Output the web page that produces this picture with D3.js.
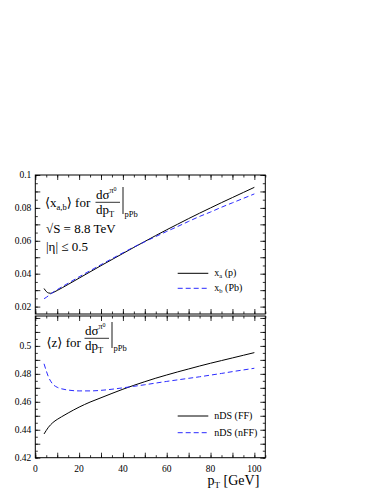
<!DOCTYPE html>
<html>
<head>
<meta charset="utf-8">
<script src="https://cdn.jsdelivr.net/npm/d3@7"></script>
<style>
  body { margin: 0; background: #fff; }
</style>
</head>
<body>
<div class="chart"></div>
<script>
// ------------------------------------------------------------------
// Data
var pt_xa  = [4, 5, 6, 7, 8, 10, 15, 20, 25, 30, 35, 40, 45, 50, 55, 60, 65, 70, 75, 80, 85, 90, 95, 100];
var val_xa = [0.0310, 0.0292, 0.0283, 0.0281, 0.0285, 0.0298, 0.0335, 0.0373, 0.0411, 0.0449, 0.0486, 0.0523,
              0.0560, 0.0596, 0.0632, 0.0667, 0.0701, 0.0735, 0.0768, 0.0800, 0.0832, 0.0863, 0.0894, 0.0925];
var pt_xb  = [4, 5, 6, 7, 8, 10, 15, 20, 25, 30, 35, 40, 45, 50, 55, 60, 65, 70, 75, 80, 85, 90, 95, 100];
var val_xb = [0.0248, 0.0256, 0.0266, 0.0276, 0.0286, 0.0303, 0.0342, 0.0381, 0.0418, 0.0455, 0.0491, 0.0527,
              0.0562, 0.0594, 0.0626, 0.0657, 0.0687, 0.0718, 0.0748, 0.0775, 0.0804, 0.0831, 0.0858, 0.0885];

var pt_ff   = [4, 5, 6, 7, 8, 10, 12, 15, 20, 25, 30, 35, 40, 45, 50, 55, 60, 65, 70, 75, 80, 85, 90, 95, 100];
var val_ff  = [0.4370, 0.4395, 0.4418, 0.4436, 0.4451, 0.4474, 0.4493, 0.4520, 0.4562, 0.4598, 0.4629, 0.4660,
               0.4690, 0.4718, 0.4744, 0.4769, 0.4792, 0.4814, 0.4835, 0.4856, 0.4876, 0.4895, 0.4914, 0.4933, 0.4952];
var pt_nff  = [4, 5, 6, 7, 8, 10, 12, 15, 20, 25, 30, 35, 40, 45, 50, 55, 60, 65, 70, 75, 80, 85, 90, 95, 100];
var val_nff = [0.4872, 0.4822, 0.4778, 0.4748, 0.4726, 0.4704, 0.4693, 0.4684, 0.4678, 0.4678, 0.4682, 0.4690,
               0.4700, 0.4711, 0.4722, 0.4734, 0.4746, 0.4757, 0.4768, 0.4779, 0.4791, 0.4803, 0.4816, 0.4828, 0.4840];

var x_ticks   = [0, 20, 40, 60, 80, 100];
var top_ticks = [0.02, 0.04, 0.06, 0.08, 0.1];
var bot_ticks = [0.42, 0.44, 0.46, 0.48, 0.5];
var top_labels = ["0.02", "0.04", "0.06", "0.08", "0.1"];
var bot_labels = ["0.42", "0.44", "0.46", "0.48", "0.5"];

// ------------------------------------------------------------------
var width = 382, height = 494;
var left = 35.3, right = 265.3;
var SERIF = "'Liberation Serif', 'Times New Roman', Times, 'DejaVu Serif', serif";

var svg = d3.select(".chart").append("svg")
  .attr("width", width)
  .attr("height", height)
  .attr("font-family", SERIF);

var x = d3.scaleLinear().domain([0, 105]).range([left, right]);

function zip(a, b) { return a.map(function(d, i) { return [d, b[i]]; }); }

function range_step(a, b, s) {
  var out = [];
  for (var v = a; v <= b + 1e-9; v += s) out.push(+v.toFixed(4));
  return out;
}

function txt(g, xx, yy, size) {
  return g.append("text").attr("x", xx).attr("y", yy)
    .attr("font-family", SERIF).attr("font-size", size).attr("fill", "#000");
}

// one panel : frame, ticks on the 4 sides, two curves
function panel(y, yTicks, yLabels, yMinor, curves, withXLabels)
{
  var g = svg.append("g");
  var top = y.range()[1], bottom = y.range()[0];

  // minor + major ticks, all pointing inward
  var xMinor = range_step(0, 105, 5), xMajor = range_step(0, 100, 10);
  [[xMinor, 2.5], [xMajor, 5]].forEach(function(t) {
    g.append("g").attr("transform", "translate(0," + bottom + ")")
      .call(d3.axisBottom(x).tickValues(t[0]).tickSize(-t[1]).tickFormat(""));
    g.append("g").attr("transform", "translate(0," + top + ")")
      .call(d3.axisTop(x).tickValues(t[0]).tickSize(-t[1]).tickFormat(""));
  });
  var yMajor = yMinor.filter(function(v, i) { return i % 2 == 0; });
  [[yMinor, 2.5], [yMajor, 5]].forEach(function(t) {
    g.append("g").attr("transform", "translate(" + left + ",0)")
      .call(d3.axisLeft(y).tickValues(t[0]).tickSize(-t[1]).tickFormat(""));
    g.append("g").attr("transform", "translate(" + right + ",0)")
      .call(d3.axisRight(y).tickValues(t[0]).tickSize(-t[1]).tickFormat(""));
  });
  g.selectAll(".domain").remove();
  g.selectAll(".tick line").attr("stroke", "#000").attr("stroke-width", 0.8);

  g.append("rect")
    .attr("x", left).attr("y", top)
    .attr("width", right - left).attr("height", bottom - top)
    .attr("fill", "none").attr("stroke", "#000").attr("stroke-width", 1);

  // y labels
  yTicks.forEach(function(d, i) {
    txt(g, left - 4, y(d) + 3.2, 9.5).attr("text-anchor", "end").text(yLabels[i]);
  });

  if (withXLabels) {
    x_ticks.forEach(function(d) {
      txt(g, x(d), bottom + 14.5, 9.5).attr("text-anchor", "middle").text(d);
    });
  }

  var line = d3.line().curve(d3.curveMonotoneX)
    .x(function(d) { return x(d[0]); })
    .y(function(d) { return y(d[1]); });

  curves.forEach(function(c) {
    g.append("path")
      .datum(c.data)
      .attr("d", line)
      .attr("fill", "none")
      .attr("stroke", c.color)
      .attr("stroke-width", 1)
      .attr("stroke-dasharray", c.dash);
  });
  return g;
}

// legend entry
function legend(g, yy, color, dash, label, sub, rest)
{
  g.append("line")
    .attr("x1", 177.7).attr("x2", 208.3)
    .attr("y1", yy).attr("y2", yy)
    .attr("stroke", color).attr("stroke-width", 1)
    .attr("stroke-dasharray", dash);
  var t = txt(g, 214.3, yy + 3, 10);
  t.append("tspan").text(label);
  if (sub) t.append("tspan").attr("dy", 2).attr("font-size", 6.5).text(sub);
  t.append("tspan").attr("dy", sub ? -2 : 0).text(rest);
}

// d sigma / d pT |pPb label
function frac(g, xx, yLine, barTop, barBot)
{
  var num = txt(g, xx, yLine - 3, 13);
  num.append("tspan").text("dσ");
  num.append("tspan").attr("dy", -6).attr("font-size", 8).text("π");
  num.append("tspan").attr("dy", -2.5).attr("font-size", 6).text("0");
  g.append("line").attr("x1", xx - 0.5).attr("x2", xx + 24)
    .attr("y1", yLine).attr("y2", yLine).attr("stroke", "#000").attr("stroke-width", 0.8);
  var den = txt(g, xx, yLine + 12, 13);
  den.append("tspan").text("dp");
  den.append("tspan").attr("dy", 3).attr("font-size", 8.5).text("T");
  g.append("line").attr("x1", xx + 27).attr("x2", xx + 27)
    .attr("y1", barTop).attr("y2", barBot).attr("stroke", "#000").attr("stroke-width", 0.9);
  txt(g, xx + 28.5, barBot + 2.5, 8.5).text("pPb");
}

// ------------------------------------------------------------------
// top panel
var yTop = d3.scaleLinear().domain([0.0155, 0.1]).range([314, 175]);
var gTop = panel(yTop, top_ticks, top_labels, range_step(0.02, 0.1, 0.005), [
  { data: zip(pt_xa, val_xa), color: "#000", dash: null },
  { data: zip(pt_xb, val_xb), color: "#2a2aff", dash: "5,3" }
], false);

var t1 = txt(gTop, 45, 207.3, 13);
t1.append("tspan").text("⟨x");
t1.append("tspan").attr("dy", 3).attr("font-size", 8.5).text("a,b");
t1.append("tspan").attr("dy", -3).text("⟩ for");
frac(gTop, 96, 202.3, 187, 214);

txt(gTop, 46, 233.3, 13).text("√S = 8.8 TeV");
txt(gTop, 46, 250.5, 13).text("|η| ≤ 0.5");

legend(gTop, 273.3, "#000", null, "x", "a", " (p)");
legend(gTop, 288.3, "#2a2aff", "5,3", "x", "b", " (Pb)");

// bottom panel
var yBot = d3.scaleLinear().domain([0.42, 0.5214]).range([457.7, 316]);
var gBot = panel(yBot, bot_ticks, bot_labels, range_step(0.42, 0.52, 0.005), [
  { data: zip(pt_ff, val_ff), color: "#000", dash: null },
  { data: zip(pt_nff, val_nff), color: "#2a2aff", dash: "5,3" }
], true);

txt(gBot, 46.5, 346.7, 13).text("⟨z⟩ for");
frac(gBot, 85, 338.3, 322, 348);

legend(gBot, 416, "#000", null, "nDS (FF)", null, "");
legend(gBot, 432.7, "#2a2aff", "5,3", "nDS (nFF)", null, "");

// axis title
var xt = txt(svg, 259.3, 485, 14).attr("text-anchor", "end");
xt.append("tspan").text("p");
xt.append("tspan").attr("dy", 3).attr("font-size", 9).text("T");
xt.append("tspan").attr("dy", -3).text(" [GeV]");
</script>
</body>
</html>
